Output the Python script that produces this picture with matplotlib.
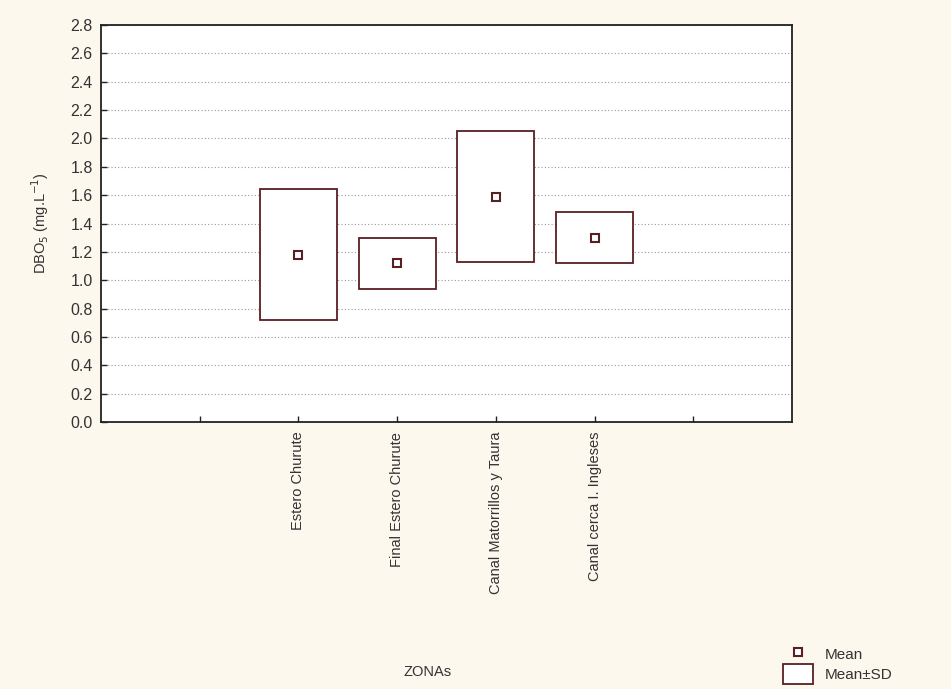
import matplotlib.pyplot as plt
from matplotlib.patches import Rectangle
from matplotlib.lines import Line2D

# values
zonas = ["Estero Churute", "Final Estero Churute", "Canal Matorrillos y Taura", "Canal cerca I. Ingleses"]
means = [1.18, 1.12, 1.59, 1.30]
sds = [0.46, 0.18, 0.465, 0.18]
yticks = [0.0, 0.2, 0.4, 0.6, 0.8, 1.0, 1.2, 1.4, 1.6, 1.8, 2.0, 2.2, 2.4, 2.6, 2.8]

edge = "#5a1f22"
bg = "#fdf8ee"
txt = "#333333"

plt.rcParams['font.family'] = ['Liberation Sans', 'DejaVu Sans']

fig = plt.figure(figsize=(9.51, 6.89), dpi=100, facecolor=bg)
ax = fig.add_axes([101/951, 1 - 422/689, 691/951, 397/689])
ax.set_facecolor("white")

pos = [2, 3, 4, 5]
w = 0.78
for x, m, s in zip(pos, means, sds):
    ax.add_patch(Rectangle((x - w/2, m - s), w, 2*s, facecolor="white",
                           edgecolor=edge, lw=1.3, zorder=3))
ax.plot(pos, means, ls="none", marker="s", ms=6, mfc="white", mec=edge, mew=1.5, zorder=4)

ax.set_xlim(0, 7)
ax.set_ylim(0, 2.8)
ax.set_yticks(yticks)
ax.set_yticklabels([f"{v:.1f}" for v in yticks], fontsize=11.5, color=txt)
ax.set_xticks([1, 2, 3, 4, 5, 6])
ax.set_xticklabels([""] + zonas + [""], rotation=90, fontsize=10.5, color=txt)
ax.tick_params(direction="in", length=4, width=1, color="#222222")
ax.tick_params(axis="x", pad=7)
ax.tick_params(axis="y", pad=6)
ax.yaxis.grid(True, ls=(0, (1, 2)), color="#999999", lw=0.8)
for sp in ax.spines.values():
    sp.set_linewidth(1.3)
    sp.set_color("#222222")

ax.set_ylabel("DBO$_5$ (mg.L$^{-1}$)", fontsize=10.5, color=txt, labelpad=14)
fig.text(428/951, 1 - 672/689, "ZONAs", ha="center", va="center", fontsize=10.5, color=txt)

handles = [Line2D([], [], ls="none", marker="s", ms=6, mfc="white", mec=edge, mew=1.5),
           Rectangle((0, 0), 1, 1, facecolor="white", edgecolor=edge, lw=1.3)]
fig.legend(handles, ["Mean", "Mean\u00b1SD"], loc="lower left",
           bbox_to_anchor=(769/951, -0.012), frameon=False, fontsize=11,
           handlelength=2.0, handleheight=1.55, labelspacing=0.05, handletextpad=0.75,
           labelcolor=txt)

fig.savefig("out.png", dpi=100, facecolor=bg)
